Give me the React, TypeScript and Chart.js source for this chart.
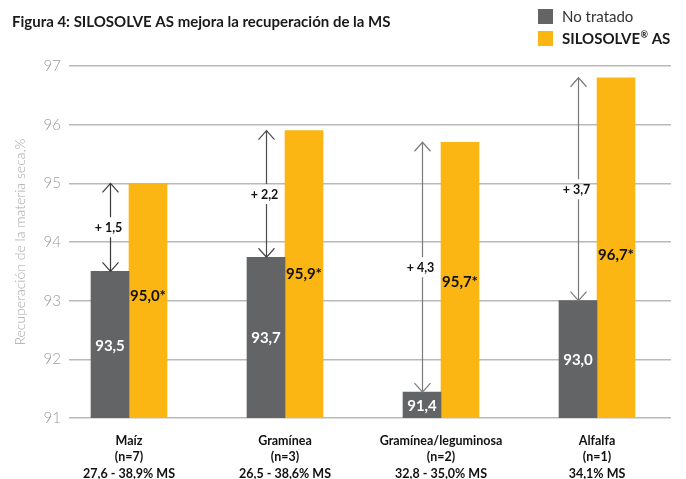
import React, { useEffect, useRef } from "react";
import { Chart, registerables } from "chart.js";

Chart.register(...registerables);

// ---------- data ----------
const TITLE = "Figura 4: SILOSOLVE AS mejora la recuperación de la MS";
const Y_TITLE = "Recuperación de la materia seca,%";
const CATEGORIES: string[][] = [
  ["Maíz", "(n=7)", "27,6 - 38,9% MS"],
  ["Gramínea", "(n=3)", "26,5 - 38,6% MS"],
  ["Gramínea/leguminosa", "(n=2)", "32,8 - 35,0% MS"],
  ["Alfalfa", "(n=1)", "34,1% MS"],
];
const SERIES_NAMES = ["No tratado", "SILOSOLVE"];
const NO_TRATADO = [93.5, 93.74, 91.44, 93.0];
const SILOSOLVE = [95.0, 95.9, 95.7, 96.8];
const NO_TRATADO_LABELS = ["93,5", "93,7", "91,4", "93,0"];
const SILOSOLVE_LABELS = ["95,0*", "95,9*", "95,7*", "96,7*"];
const DIFF_LABELS = ["+ 1,5", "+ 2,2", "+ 4,3", "+ 3,7"];
const Y_MIN = 91;
const Y_MAX = 97;
const Y_STEP = 1;

// ---------- style / layout ----------
const FONT = "Lato, 'Open Sans', sans-serif";
const GREY = "#636466";
const YELLOW = "#FBB614";
const GRID = "#b9b9b9";
// y position (in data units) where the yellow value labels sit
const SILOSOLVE_LABEL_AT = [93.08, 93.45, 93.32, 93.78];
const ARROW_COLORS = ["#3a3a3a", "#4a4a4a", "#7a7a7a", "#7a7a7a"];

const overlay = {
  id: "overlay",
  afterDraw(chart: any) {
    const { ctx } = chart;
    const yScale = chart.scales.y;
    const m0 = chart.getDatasetMeta(0);
    const m1 = chart.getDatasetMeta(1);
    ctx.save();

    // title
    ctx.font = `bold 15px ${FONT}`;
    ctx.fillStyle = "#1a1a1a";
    ctx.textBaseline = "middle";
    ctx.textAlign = "left";
    ctx.fillText(TITLE, 12, 22);

    // legend
    ctx.fillStyle = GREY;
    ctx.fillRect(538, 9, 15, 15);
    ctx.fillStyle = YELLOW;
    ctx.fillRect(538, 31, 15, 15);
    ctx.font = `15px ${FONT}`;
    ctx.fillStyle = "#333";
    ctx.fillText(SERIES_NAMES[0], 562, 17);
    ctx.font = `bold 15px ${FONT}`;
    ctx.fillStyle = "#1a1a1a";
    let lx = 562;
    ctx.fillText(SERIES_NAMES[1], lx, 39);
    lx += ctx.measureText(SERIES_NAMES[1]).width + 0.5;
    ctx.font = `bold 9px ${FONT}`;
    ctx.fillText("®", lx, 35);
    lx += ctx.measureText("®").width;
    ctx.font = `bold 15px ${FONT}`;
    ctx.fillText(" AS", lx, 39);

    // labels and arrows
    ctx.textAlign = "center";
    CATEGORIES.forEach((_, i) => {
      const g = m0.data[i];
      const s = m1.data[i];
      if (!g || !s) return;
      ctx.font = `bold 15px ${FONT}`;
      ctx.fillStyle = "#ffffff";
      ctx.fillText(NO_TRATADO_LABELS[i], g.x, (g.y + yScale.bottom) / 2 + 1);
      ctx.fillStyle = "#111";
      ctx.fillText(SILOSOLVE_LABELS[i], s.x, yScale.getPixelForValue(SILOSOLVE_LABEL_AT[i]));

      const ax = Math.round(g.x) + 0.5;
      const top = s.y;
      const bot = g.y;
      const mid = (top + bot) / 2;
      const gap = 10;
      ctx.strokeStyle = ARROW_COLORS[i];
      ctx.lineWidth = 1.2;
      ctx.beginPath();
      ctx.moveTo(ax, top);
      ctx.lineTo(ax, mid - gap);
      ctx.moveTo(ax, mid + gap);
      ctx.lineTo(ax, bot);
      ctx.moveTo(ax - 8, top + 9);
      ctx.lineTo(ax, top);
      ctx.lineTo(ax + 8, top + 9);
      ctx.moveTo(ax - 8, bot - 9);
      ctx.lineTo(ax, bot);
      ctx.lineTo(ax + 8, bot - 9);
      ctx.stroke();

      ctx.font = `bold 12.5px ${FONT}`;
      ctx.fillStyle = "#111";
      ctx.fillText(DIFF_LABELS[i], ax - 2, mid + 1);
    });
    ctx.restore();
  },
};

export default function App() {
  const ref = useRef<HTMLCanvasElement | null>(null);

  useEffect(() => {
    document.body.style.margin = "0";
    if (!ref.current) return;
    const chart = new Chart(ref.current, {
      type: "bar",
      data: {
        datasets: [
          {
            label: SERIES_NAMES[0],
            data: NO_TRATADO.map((v, i) => ({ x: i, y: v })),
            backgroundColor: GREY,
          },
          {
            label: SERIES_NAMES[1],
            data: SILOSOLVE.map((v, i) => ({ x: i, y: v })),
            backgroundColor: YELLOW,
          },
        ],
      },
      options: {
        animation: false,
        responsive: false,
        maintainAspectRatio: false,
        barThickness: 38,
        layout: { padding: { top: 66, right: 15, left: 0, bottom: 0 } },
        plugins: {
          legend: { display: false },
          title: { display: false },
          tooltip: { enabled: false },
        },
        scales: {
          x: {
            type: "linear",
            offset: false,
            bounds: "data",
            min: -1 / 3,
            max: 3 + 74 / 156,
            grid: { display: false, offset: false },
            border: { display: false },
            afterBuildTicks: (axis: any) => {
              axis.ticks = CATEGORIES.map((_, i) => ({ value: i }));
            },
            afterFit: (axis: any) => {
              axis.height = 61;
            },
            ticks: {
              autoSkip: false,
              maxRotation: 0,
              padding: 7,
              color: "#111",
              font: { family: FONT, size: 12.5, weight: "bold", lineHeight: 1.3 },
              callback: (v: any) => CATEGORIES[Math.round(Number(v))] ?? "",
            },
          },
          y: {
            min: Y_MIN,
            max: Y_MAX,
            afterFit: (axis: any) => {
              axis.width = 77;
            },
            grid: { color: GRID, lineWidth: 1.5, tickLength: 8, drawTicks: true },
            border: { display: false },
            ticks: {
              stepSize: Y_STEP,
              padding: 8,
              color: "#9a9a9a",
              font: { family: FONT, size: 15, weight: "300" },
            },
            title: {
              display: true,
              text: Y_TITLE,
              color: "#a8a8a8",
              padding: { top: 12, bottom: 0 },
              font: { family: FONT, size: 14, weight: "300" },
            },
          },
        },
      },
      plugins: [overlay],
    } as any);
    return () => chart.destroy();
  }, []);

  return (
    <div style={{ width: 686, height: 479, position: "relative" }}>
      <canvas ref={ref} width={686} height={479} style={{ display: "block" }} />
    </div>
  );
}
